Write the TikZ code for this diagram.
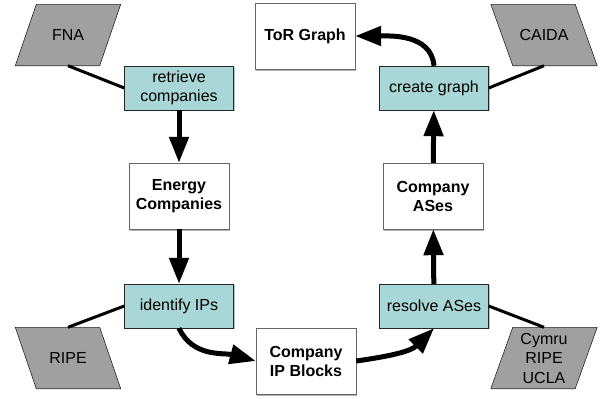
\documentclass[tikz,border=0pt]{standalone}
\usepackage{fontspec}
\setmainfont{Liberation Sans}
\usepackage{tikz}
\usetikzlibrary{shadows,arrows.meta,backgrounds}
\definecolor{procteal}{RGB}{169,214,214}
\definecolor{srcgray}{RGB}{160,160,160}
\tikzset{
  proc/.style={draw=black!85, fill=procteal, minimum width=109pt, minimum height=44pt, align=center,
    drop shadow={shadow xshift=1.2pt, shadow yshift=-1.2pt, opacity=0.5}},
  data/.style={draw=black!60, fill=white, minimum width=100pt, minimum height=66pt, align=center,
    font=\fontsize{16}{19}\selectfont\bfseries,
    drop shadow={shadow xshift=1.2pt, shadow yshift=-1.5pt, opacity=0.6}},
  src/.style={minimum width=84pt, minimum height=61pt, inner sep=1pt, align=center},
  srcshape/.style={draw=black!85, fill=srcgray, line width=0.6pt, line join=round},
  flow/.style={line width=5pt, -{Triangle[length=26pt,width=19pt]}},
  feed/.style={line width=3pt}
}

\begin{document}
\begin{tikzpicture}[x=1pt,y=-1pt,font=\fontsize{16}{19.5}\selectfont]
\useasboundingbox (0,0) rectangle (600,399);
\node[src] (fna) at (68,35) {FNA};
\node[src] (caida) at (544,35) {CAIDA};
\node[src] (ripe) at (68,358) {RIPE};
\node[src] (cymru) at (544,358) {Cymru\\RIPE\\UCLA};
\begin{scope}[on background layer]
\foreach \n/\s in {fna/10.5, caida/-11, ripe/-10.5, cymru/11}
  \draw[srcshape] ([xshift=-\s pt]\n.south west) -- ([xshift=-\s pt]\n.south east)
    -- ([xshift=\s pt]\n.north east) -- ([xshift=\s pt]\n.north west) -- cycle;
\end{scope}
\node[proc] (retrieve) at (179,88) {retrieve\\companies};
\node[data] (energy) at (179,196) {Energy\\Companies};
\node[proc] (identify) at (179,306) {identify IPs};
\node[data] (blocks) at (306,361) {Company\\IP Blocks};
\node[proc] (resolve) at (434,306) {resolve ASes};
\node[data] (ases) at (433,196) {Company\\ASes};
\node[proc] (create) at (434,88) {create graph};
\node[data] (tor) at (305,36) {ToR Graph};
\draw[feed] (fna.south) -- (retrieve.west);
\draw[feed] (caida.south) -- (create.east);
\draw[feed] (ripe.north) -- (identify.west);
\draw[feed] (cymru.north) -- (resolve.east);
\draw[flow] (retrieve) -- (energy);
\draw[flow] (energy) -- (identify);
\draw[flow] (identify.south) to[out=-65,in=165] (blocks.west);
\draw[flow] (blocks.east) to[out=8,in=225] (resolve.south);
\draw[flow] (resolve) -- (ases);
\draw[flow] (ases) -- (create);
\draw[flow] (create.north) to[out=95,in=0] (tor.east);
\end{tikzpicture}
\end{document}
